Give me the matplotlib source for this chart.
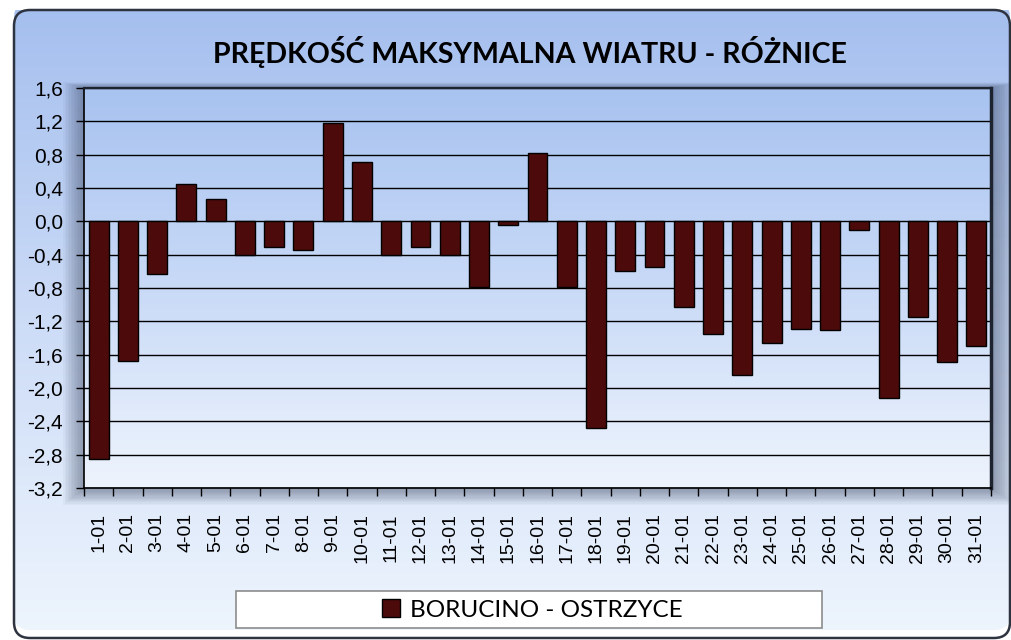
import numpy as np
import matplotlib.pyplot as plt
from matplotlib.patches import FancyBboxPatch, Rectangle
from matplotlib.colors import LinearSegmentedColormap

# days of january
days = ["1-01", "2-01", "3-01", "4-01", "5-01", "6-01", "7-01", "8-01",
        "9-01", "10-01", "11-01", "12-01", "13-01", "14-01", "15-01", "16-01",
        "17-01", "18-01", "19-01", "20-01", "21-01", "22-01", "23-01", "24-01",
        "25-01", "26-01", "27-01", "28-01", "29-01", "30-01", "31-01"]

# difference of max wind speed (Borucino - Ostrzyce)
diffs = [-2.85, -1.68, -0.63, 0.45, 0.27, -0.40, -0.31, -0.34,
         1.18, 0.71, -0.40, -0.31, -0.40, -0.79, -0.04, 0.82,
         -0.79, -2.48, -0.59, -0.55, -1.03, -1.35, -1.84, -1.46,
         -1.29, -1.30, -0.10, -2.12, -1.15, -1.69, -1.49]

series_name = "BORUCINO - OSTRZYCE"
title = "PRĘDKOŚĆ MAKSYMALNA WIATRU - RÓŻNICE"

W, H = 1011, 640
fig = plt.figure(figsize=(W / 100, H / 100), dpi=100)

# background panel with gradient
bg = fig.add_axes([0, 0, 1, 1])
bg.set_xlim(0, W)
bg.set_ylim(H, 0)
bg.axis('off')
grad = np.linspace(0, 1, 256).reshape(-1, 1)
panel_cmap = LinearSegmentedColormap.from_list('panel', ['#a5bfee', '#cddcf7', '#eef5fd'])
panel = FancyBboxPatch((14, 10), 996, 628, boxstyle="round,pad=0,rounding_size=16",
                       fc='none', ec='#2e3340', lw=1.8, zorder=3)
im = bg.imshow(grad, cmap=panel_cmap, extent=[14, 1010, 638, 10], aspect='auto', zorder=1)
im.set_clip_path(panel)
bg.add_patch(panel)

# soft shadow round the plot area
for k in range(1, 15):
    bg.add_patch(Rectangle((84 - k * 1.5, 88 - k * 0.4), 907 + k * 3.3, 400 + k * 1.6,
                           fc='#34405a', ec='none', alpha=0.04, zorder=2))

# legend box
bg.add_patch(Rectangle((236, 591), 586, 37, fc='white', ec='#8c8c8c', lw=1.2, zorder=4))

ax = fig.add_axes([84 / W, 1 - 488 / H, (991 - 84) / W, 400 / H])
x = np.arange(1, len(days) + 1)
ax.set_xlim(0.5, 31.5)
ax.set_ylim(-3.2, 1.6)

plot_cmap = LinearSegmentedColormap.from_list('plot', ['#a8c3f0', '#c9daf7', '#eef4fd'])
ax.imshow(grad, cmap=plot_cmap, extent=[0.5, 31.5, -3.2, 1.6], aspect='auto', zorder=0)

bars = ax.bar(x, diffs, width=0.68, color='#4c0a0a', edgecolor='black', lw=1, zorder=3)

yt = np.arange(-3.2, 1.61, 0.4)
ax.set_yticks(yt)
ax.set_yticklabels([f"{round(v, 1) + 0.0:.1f}".replace('.', ',') for v in yt])
ax.yaxis.grid(True, color='black', lw=1, zorder=1)
ax.set_axisbelow(True)
ax.tick_params(axis='y', length=6, width=1, pad=9, direction='out',
               labelsize=15, labelfontfamily='Liberation Sans')

ax.set_xticks(np.arange(0.5, 32, 1))
ax.set_xticklabels([])
ax.set_xticks(x, minor=True)
ax.set_xticklabels(days, minor=True, rotation=90)
ax.tick_params(axis='x', which='major', length=6, width=1, direction='out')
ax.tick_params(axis='x', which='minor', length=0, pad=18,
               labelsize=14, labelfontfamily='Liberation Sans')

for s in ['left', 'bottom']:
    ax.spines[s].set_color('black')
    ax.spines[s].set_linewidth(1.2)
ax.spines['top'].set_color('#1e2330')
ax.spines['top'].set_linewidth(1.6)
ax.spines['right'].set_color('#1e2330')
ax.spines['right'].set_linewidth(2.5)

fig.text(530 / W, 1 - 52 / H, title, ha='center', va='center',
         fontsize=20.6, fontweight='bold', family='Lato')

fig.legend(handles=[bars], labels=[series_name], loc='center',
           bbox_to_anchor=(532 / W, 1 - 610 / H), frameon=False,
           prop={'family': 'Lato', 'size': 17.5}, handlelength=0.75, handleheight=0.75,
           handletextpad=0.4)

fig.savefig('out.png', dpi=100)
